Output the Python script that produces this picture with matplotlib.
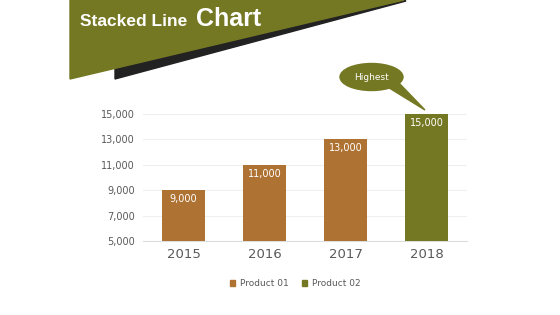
import matplotlib
import matplotlib.pyplot as plt
from matplotlib.patches import Polygon, Ellipse, Patch

matplotlib.use("Agg")

years = ["2015", "2016", "2017", "2018"]
values = [9000, 11000, 13000, 15000]
series = ["Product 01", "Product 01", "Product 01", "Product 02"]
yticks = [5000, 7000, 9000, 11000, 13000, 15000]

BROWN = "#AE7232"
OLIVE = "#757822"
colors = {"Product 01": BROWN, "Product 02": OLIVE}

fig = plt.figure(figsize=(5.6, 3.15), dpi=100)

# main bar chart
ax = fig.add_axes([143 / 560, 1 - 241 / 315, 324 / 560, 127 / 315])
x = range(len(years))
ax.bar(x, [v - yticks[0] for v in values], bottom=yticks[0], width=0.52,
       color=[colors[s] for s in series], zorder=3)
for i, v in enumerate(values):
    ax.text(i, v - 300, f"{v:,}", ha="center", va="top", color="white",
            fontsize=7, zorder=4)

ax.set_xlim(-0.5, 3.5)
ax.set_ylim(yticks[0], yticks[-1])
ax.set_yticks(yticks)
ax.set_yticklabels([f"{t:,}" for t in yticks])
ax.set_xticks(list(x))
ax.set_xticklabels(years)
ax.tick_params(axis="y", labelsize=7, colors="#595959", length=0, pad=6)
ax.tick_params(axis="x", labelsize=9.5, colors="#595959", length=0, pad=5)
ax.grid(axis="y", color="#EFEFEF", linewidth=0.8, zorder=0)
for side in ["top", "right", "left"]:
    ax.spines[side].set_visible(False)
ax.spines["bottom"].set_color("#DDDDDD")
ax.spines["bottom"].set_linewidth(0.8)

fig.legend(handles=[Patch(color=BROWN, label="Product 01"),
                    Patch(color=OLIVE, label="Product 02")],
           loc="center", bbox_to_anchor=(295 / 560, 1 - 284 / 315), ncol=2,
           frameon=False, fontsize=6.5, handlelength=0.6, handleheight=0.6,
           handletextpad=0.5, columnspacing=1.5, labelcolor="#595959")

# decoration overlay in pixel coords
ov = fig.add_axes([0, 0, 1, 1], zorder=5)
ov.set_xlim(0, 560)
ov.set_ylim(315, 0)
ov.axis("off")
ov.add_patch(Polygon([(115, 68.3), (115, 79), (406, 1), (404, 0)],
                     closed=True, color="#222222"))
ov.add_patch(Polygon([(70, 0), (404, 0), (70, 79)], closed=True, color=OLIVE))
ov.text(80, 21, "Stacked Line", color="white", fontsize=12.5, fontweight="bold",
        va="center", ha="left", family="Liberation Sans")
ov.text(196, 19, "Chart", color="white", fontsize=18, fontweight="bold",
        va="center", ha="left", family="Liberation Sans")

ov.add_patch(Polygon([(386, 86), (398, 82), (425, 110)], closed=True, color=OLIVE))
ov.add_patch(Ellipse((371.5, 77), 63, 27, color=OLIVE))
ov.text(371.5, 77, "Highest", color="white", fontsize=6.5, ha="center", va="center")

fig.savefig("out.png", dpi=100)
